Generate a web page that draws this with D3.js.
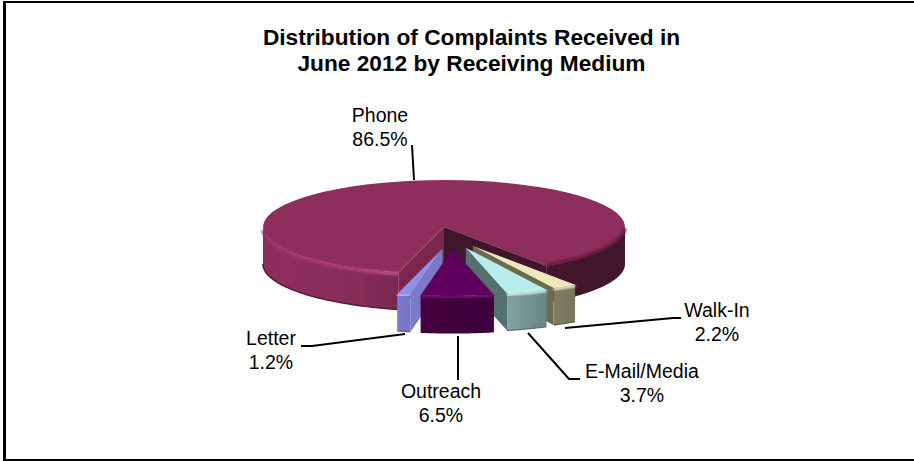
<!DOCTYPE html>
<html>
<head>
<meta charset="utf-8">
<script src="https://cdn.jsdelivr.net/npm/d3@7"></script>
<style>
  html, body { margin: 0; padding: 0; background: #fff; }
  svg { display: block; }
  text { font-family: "Liberation Sans", Arial, sans-serif; fill: #000; }
</style>
</head>
<body>
<svg id="chart" width="914" height="461"></svg>
<script>
// Chart content
const titleLines = ["Distribution of Complaints Received in", "June 2012 by Receiving Medium"];
const categories = ["Phone", "Walk-In", "E-Mail/Media", "Outreach", "Letter"];
const shares = [86.5, 2.2, 3.7, 6.5, 1.2];

// Slice palette, one entry per category
const topColors = ["#8e2f5c", "#ece8bb", "#b9ecec", "#5e005e", "#8f8fe6"];
const rimColors = ["#b83e7e", "#f8f5d8", "#d8f8f8", "#74107a", "#bcbcfc"];
const wallLight = ["#8e2f5e", "#7f7d60", "#82a3a3", "#47003f", "#7e7cd0"];
const wallDark = ["#762850", "#76745a", "#678484", "#3a003c", "#7472c0"];
const cutColors = ["#7a2650", "#6c6a50", "#557070", "#3e0038", "#7b79c8"];

// Label placement: centre x, first baseline, leader polyline
const labelX = [380, 717, 642, 441, 271];
const labelY = [122, 317, 378, 398, 345];
const leaders = [
  [[412, 145], [414, 180]],
  [[565, 328], [673, 318], [681, 318]],
  [[528, 333], [569, 379], [580, 379]],
  [[458, 336], [458, 380]],
  [[405, 334], [312, 346], [301, 346]]
];

// Pie geometry in the tilted plane
const cx = 444, cy = 227, rx = 181, ry = 47, depth = 37;
const explodeX = 42, explodeY = 22, explodeShift = 7.5;
const rad = Math.PI / 180;

const svg = d3.select("#chart");
const defs = svg.append("defs");
defs.append("filter").attr("id", "soft").attr("x", "-10%").attr("y", "-30%").attr("width", "120%").attr("height", "160%")
  .append("feGaussianBlur").attr("stdDeviation", 0.8);
defs.append("filter").attr("id", "edge").attr("x", "-5%").attr("y", "-5%").attr("width", "110%").attr("height", "110%")
  .append("feGaussianBlur").attr("stdDeviation", 0.35);

const pie = d3.pie().sort(null).value(d => d)
  .startAngle(194.5 * rad).endAngle(554.5 * rad);
const arcs = pie(shares);

const line = d3.line();
const project = (a, r, ox, oy) => [cx + ox + rx * r * Math.sin(a), cy + oy - ry * r * Math.cos(a)];
const arcPoints = (a0, a1, ox, oy) =>
  d3.range(0, 61).map(i => project(a0 + (a1 - a0) * i / 60, 1, ox, oy));
const drop = pts => pts.map(p => [p[0], p[1] + depth]);
const closed = pts => line(pts) + "Z";

function wallGradient(id, stops, x0, x1) {
  const g = defs.append("linearGradient").attr("id", id)
    .attr("gradientUnits", "userSpaceOnUse")
    .attr("x1", x0).attr("x2", x1).attr("y1", 0).attr("y2", 0);
  stops.forEach(s => g.append("stop").attr("offset", s[0]).attr("stop-color", s[1]));
  return `url(#${id})`;
}

const art = svg.append("g").attr("filter", "url(#edge)");

// Phone: the large stationary slice
const phone = arcs[0];
const phoneStart = phone.startAngle;
const phoneEnd = phone.endAngle;

// Front-left rim, running from the left extreme round to the cut
const leftRim = arcPoints(270 * rad, phoneStart, 0, 0);
art.append("path")
  .attr("d", closed(leftRim.concat(drop(leftRim).reverse())))
  .attr("fill", wallGradient("phoneLeft", [[0, "#8a2d5a"], [0.15, wallLight[0]], [0.7, "#862d59"], [1, wallDark[0]]], cx - rx, cx - 45));
art.append("path")
  .attr("d", line(drop(leftRim)))
  .attr("fill", "none").attr("stroke", "#5c1a3e").attr("stroke-width", 1.6);

// Front-right rim, in shadow
const rightRim = arcPoints(phoneEnd - 2 * Math.PI, 90 * rad, 0, 0);
art.append("path")
  .attr("d", closed(rightRim.concat(drop(rightRim).reverse())))
  .attr("fill", "#43132b");

// Top face
const topFace = [[cx, cy]].concat(arcPoints(phoneStart, phoneEnd, 0, 0));
art.append("path").attr("d", closed(topFace)).attr("fill", topColors[0]);

// Bevel along the rim: bright on the lit side, dark on the shaded side
art.append("path")
  .attr("d", line(arcPoints(268 * rad, phoneStart, 0, 1.5)))
  .attr("fill", "none")
  .attr("stroke", wallGradient("phoneBevel", [[0, "#8e2f5e"], [0.2, "#a5366f"], [0.7, rimColors[0]], [1, "#c4548f"]], cx - rx, cx - 45))
  .attr("stroke-width", 3)
  .attr("filter", "url(#soft)");
art.append("path")
  .attr("d", line(arcPoints(phoneEnd - 2 * Math.PI, 92 * rad, 0, -0.5)))
  .attr("fill", "none").attr("stroke", "#5e1c3e").attr("stroke-width", 3.4)
  .attr("filter", "url(#soft)");

// Interior cut walls of the large slice
const cutWall = (a) => {
  const p = project(a, 1, 0, 0);
  return closed([[cx, cy], p, [p[0], p[1] + depth], [cx, cy + depth]]);
};
art.append("path").attr("d", cutWall(phoneStart)).attr("fill", cutColors[0]);
art.append("path").attr("d", cutWall(phoneEnd)).attr("fill", "#40132b");

// Exploded slices, painted back to front
const paintOrder = [4, 1, 2, 3];
paintOrder.forEach(i => {
  const d = arcs[i];
  const mid = (d.startAngle + d.endAngle) / 2;
  const ox = explodeShift + explodeX * Math.sin(mid);
  const oy = -explodeY * Math.cos(mid);
  const apex = [cx + ox, cy + oy];
  const rim = arcPoints(d.startAngle, d.endAngle, ox, oy);
  const g = art.append("g");

  // The inner wall that faces the viewer depends on which side of centre the slice is on
  const inner = Math.sin(mid) > 0.05 ? rim[rim.length - 1] : (Math.sin(mid) < -0.05 ? rim[0] : null);
  if (inner) {
    g.append("path")
      .attr("d", closed([apex, inner, [inner[0], inner[1] + depth], [apex[0], apex[1] + depth]]))
      .attr("fill", cutColors[i]);
  }

  g.append("path")
    .attr("d", closed(rim.concat(drop(rim).reverse())))
    .attr("fill", wallGradient("wall" + i, [[0, wallLight[i]], [1, wallDark[i]]],
      d3.min(rim, p => p[0]), d3.max(rim, p => p[0])));

  g.append("path")
    .attr("d", closed([apex].concat(rim)))
    .attr("fill", topColors[i]);

  g.append("path")
    .attr("d", line(rim.map(p => [p[0], p[1] + 1])))
    .attr("fill", "none").attr("stroke", rimColors[i]).attr("stroke-width", 2.6)
    .attr("filter", "url(#soft)");

  g.append("path")
    .attr("d", line(drop(rim)))
    .attr("fill", "none").attr("stroke", d3.color(wallDark[i]).darker(0.5)).attr("stroke-width", 1.2);
});

// Leader lines
svg.append("g").selectAll("path").data(leaders).join("path")
  .attr("d", d => line(d))
  .attr("fill", "none").attr("stroke", "#000").attr("stroke-width", 2);

// Category and share labels
const labels = svg.append("g").attr("font-size", 19.5).attr("text-anchor", "middle");
categories.forEach((name, i) => {
  labels.append("text").attr("x", labelX[i]).attr("y", labelY[i]).text(name);
  labels.append("text").attr("x", labelX[i]).attr("y", labelY[i] + 24).text(shares[i].toFixed(1) + "%");
});

// Title
svg.append("g").attr("font-size", 22.7).attr("font-weight", "bold").attr("text-anchor", "middle")
  .selectAll("text").data(titleLines).join("text")
  .attr("x", 471.5).attr("y", (d, i) => 45 + i * 26).text(d => d);

// Frame: left, top and bottom edges
svg.append("g").selectAll("rect")
  .data([[3, 1, 3, 459], [3, 1, 911, 2], [3, 459, 911, 2]]).join("rect")
  .attr("x", d => d[0]).attr("y", d => d[1]).attr("width", d => d[2]).attr("height", d => d[3])
  .attr("fill", "#000");
</script>
</body>
</html>
